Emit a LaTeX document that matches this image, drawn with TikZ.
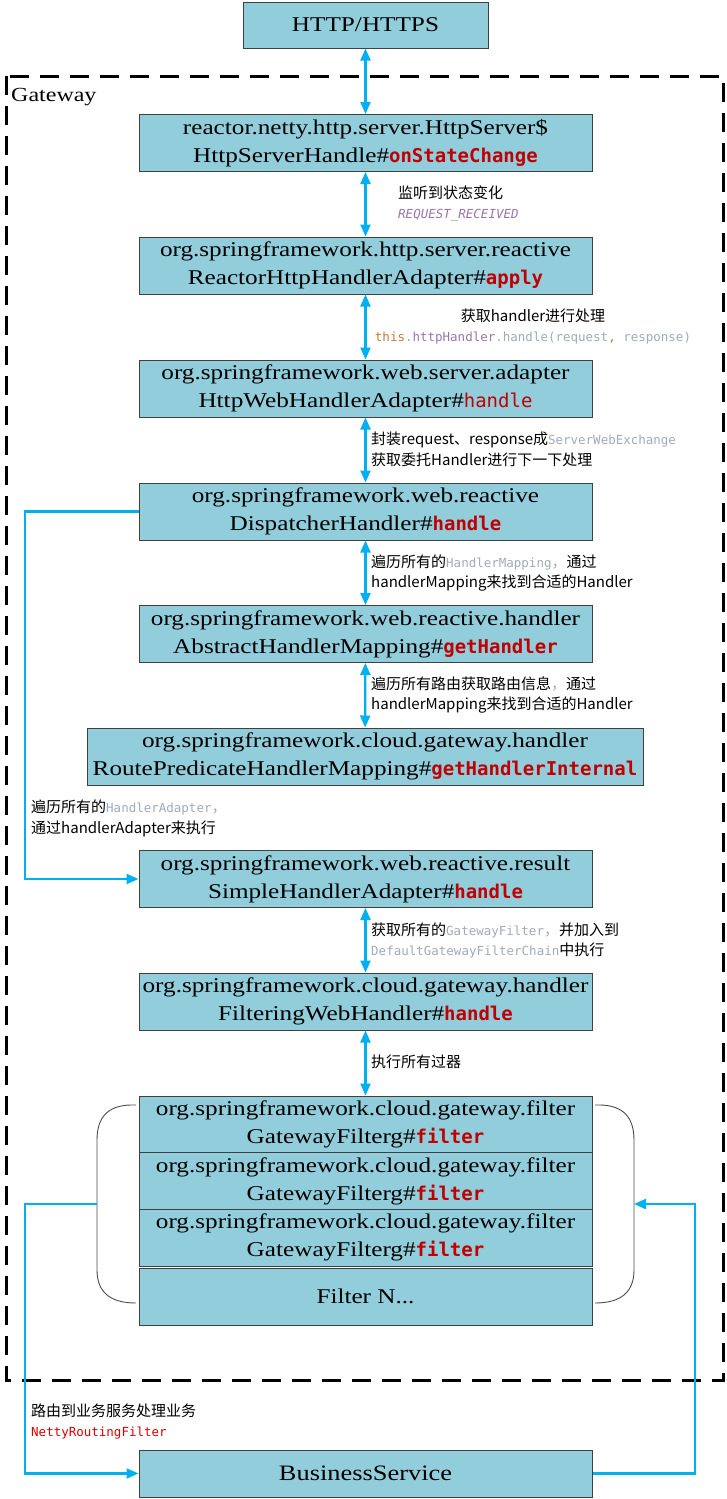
\documentclass[tikz,border=0pt]{standalone}
\usepackage{fontspec}
\usetikzlibrary{arrows.meta}
\setmainfont{Liberation Serif}[FakeStretch=1.2]
\newfontfamily\cjk{Noto Sans CJK SC}
\newfontfamily\codefont{DejaVu Sans Mono}
\definecolor{boxfill}{RGB}{146,205,220}
\definecolor{flowblue}{RGB}{0,176,240}
\definecolor{mthred}{RGB}{192,0,0}
\definecolor{routered}{RGB}{220,0,0}
\definecolor{codegray}{RGB}{160,170,185}
\definecolor{codepurple}{RGB}{152,118,170}
\definecolor{codeorange}{RGB}{204,120,50}
\newcommand\mth[1]{{\codefont\bfseries\fontsize{19}{28}\selectfont\color{mthred}#1}}
\newcommand\cde[2][codegray]{{\codefont\fontsize{12.5}{20}\selectfont\color{#1}#2}}
\tikzset{
    box/.style={draw=black!75, fill=boxfill, line width=1pt, minimum width=453pt,
        minimum height=57pt, inner sep=2pt, align=center,
        font=\fontsize{21}{28}\selectfont},
    flow/.style={flowblue, line width=2.2pt, arrows={-Triangle[length=12pt,width=10pt]}},
    both/.style={flow, arrows={Triangle[length=12pt,width=10pt]-Triangle[length=12pt,width=10pt]}},
    note/.style={anchor=west, inner sep=0pt, align=left, font=\cjk\fontsize{15}{20.5}\selectfont},
    brace/.style={draw=black!70, line width=0.9pt},
}
\begin{document}
\begin{tikzpicture}[x=1pt, y=-1pt]
    \useasboundingbox (0,0) rectangle (726,1499);
    \draw[line width=3pt, dash pattern=on 19pt off 11pt] (6,76) rectangle (723.5,1380);
    \node[anchor=west, inner sep=0pt, font=\fontsize{20}{24}\selectfont] (gw) at (11,97) {Gateway};

    \node[box, minimum width=245pt, minimum height=46pt] (http) at (365.5,25) {HTTP/HTTPS};
    \node[box] (hsh) at (365.5,143) {reactor.netty.http.server.HttpServer\$\\HttpServerHandle\#\mth{onStateChange}};
    \node[box] (rha) at (365.5,265.5) {org.springframework.http.server.reactive\\ReactorHttpHandlerAdapter\#\mth{apply}};
    \node[box] (hwha) at (365.5,388.5) {org.springframework.web.server.adapter\\HttpWebHandlerAdapter\#{\codefont\fontsize{19}{28}\selectfont\color{mthred}handle}};
    \node[box] (dh) at (365.5,511.5) {org.springframework.web.reactive\\DispatcherHandler\#\mth{handle}};
    \node[box] (ahm) at (365.5,634) {org.springframework.web.reactive.handler\\AbstractHandlerMapping\#\mth{getHandler}};
    \node[box, minimum width=556pt] (rphm) at (365,756.5) {org.springframework.cloud.gateway.handler\\RoutePredicateHandlerMapping\#\mth{getHandlerInternal}};
    \node[box] (sha) at (365.5,879) {org.springframework.web.reactive.result\\SimpleHandlerAdapter\#\mth{handle}};
    \node[box] (fwh) at (365.5,1001.5) {org.springframework.cloud.gateway.handler\\FilteringWebHandler\#\mth{handle}};
    \node[box] (fa) at (365.5,1124.5) {org.springframework.cloud.gateway.filter\\GatewayFilterg\#\mth{filter}};
    \node[box] (fb) at (365.5,1181) {org.springframework.cloud.gateway.filter\\GatewayFilterg\#\mth{filter}};
    \node[box] (fc) at (365.5,1237.5) {org.springframework.cloud.gateway.filter\\GatewayFilterg\#\mth{filter}};
    \node[box] (fn) at (365.5,1296.5) {Filter N...};
    \node[box, minimum height=47pt, font=\fontsize{22}{26}\selectfont] (bs) at (365.5,1473.5) {BusinessService};

    \draw[brace] (136,1105) .. controls (110,1104) and (97,1115) .. (97,1140) -- (97,1270) .. controls (97,1292) and (110,1303) .. (136,1303);
    \draw[brace] (595,1105) .. controls (621,1104) and (634,1115) .. (634,1140) -- (634,1270) .. controls (634,1292) and (621,1303) .. (595,1303);
    \coordinate (lb) at (97,1204);
    \coordinate (rb) at (634,1204);
    \coordinate (lx) at (25,0);
    \coordinate (rx) at (695,0);

    \draw[both] (http) -- (hsh);
    \draw[both] (hsh) -- (rha);
    \draw[both] (rha) -- (hwha);
    \draw[both] (hwha) -- (dh);
    \draw[both] (dh) -- (ahm);
    \draw[both] (ahm) -- (rphm);
    \draw[both] (sha) -- (fwh);
    \draw[both] (fwh) -- (fa);
    \draw[flow] (dh.west) -- (dh.west -| lx) |- (sha.west);
    \draw[flow] (lb) -- (lb -| lx) |- (bs.west);
    \draw[flow] (bs.east) -- (bs.east -| rx) |- (rb);

    \node[note] (n1) at (398,203.5) {监听到状态变化\\\cde[codepurple]{\itshape REQUEST\_RECEIVED}};
    \node[note, anchor=center, align=center] (n2) at (533,326.5) {获取handler进行处理\\\cde{\textcolor{codeorange}{this}.\textcolor{codepurple}{httpHandler}.handle(request\textcolor{codeorange}{,} response)}};
    \node[note] (n3) at (371,449.5) {封装request、response成\cde{ServerWebExchange}\\获取委托Handler进行下一下处理};
    \node[note] (n4) at (371,573) {遍历所有的\cde{HandlerMapping}\textcolor{codegray}{，}通过\\handlerMapping来找到合适的Handler};
    \node[note] (n5) at (371,695) {遍历所有路由获取路由信息\textcolor{codegray}{，}通过\\handlerMapping来找到合适的Handler};
    \node[note] (n6) at (31,818.5) {遍历所有的\cde{HandlerAdapter}\textcolor{codegray}{，}\\通过handlerAdapter来执行};
    \node[note] (n7) at (371,940.5) {获取所有的\cde{GatewayFilter}\textcolor{codegray}{，}并加入到\\\cde{DefaultGatewayFilterChain}中执行};
    \node[note] (n8) at (371,1062) {执行所有过器};
    \node[note] (n9) at (31,1421.5) {路由到业务服务处理业务\\\cde[routered]{NettyRoutingFilter}};
\end{tikzpicture}
\end{document}
